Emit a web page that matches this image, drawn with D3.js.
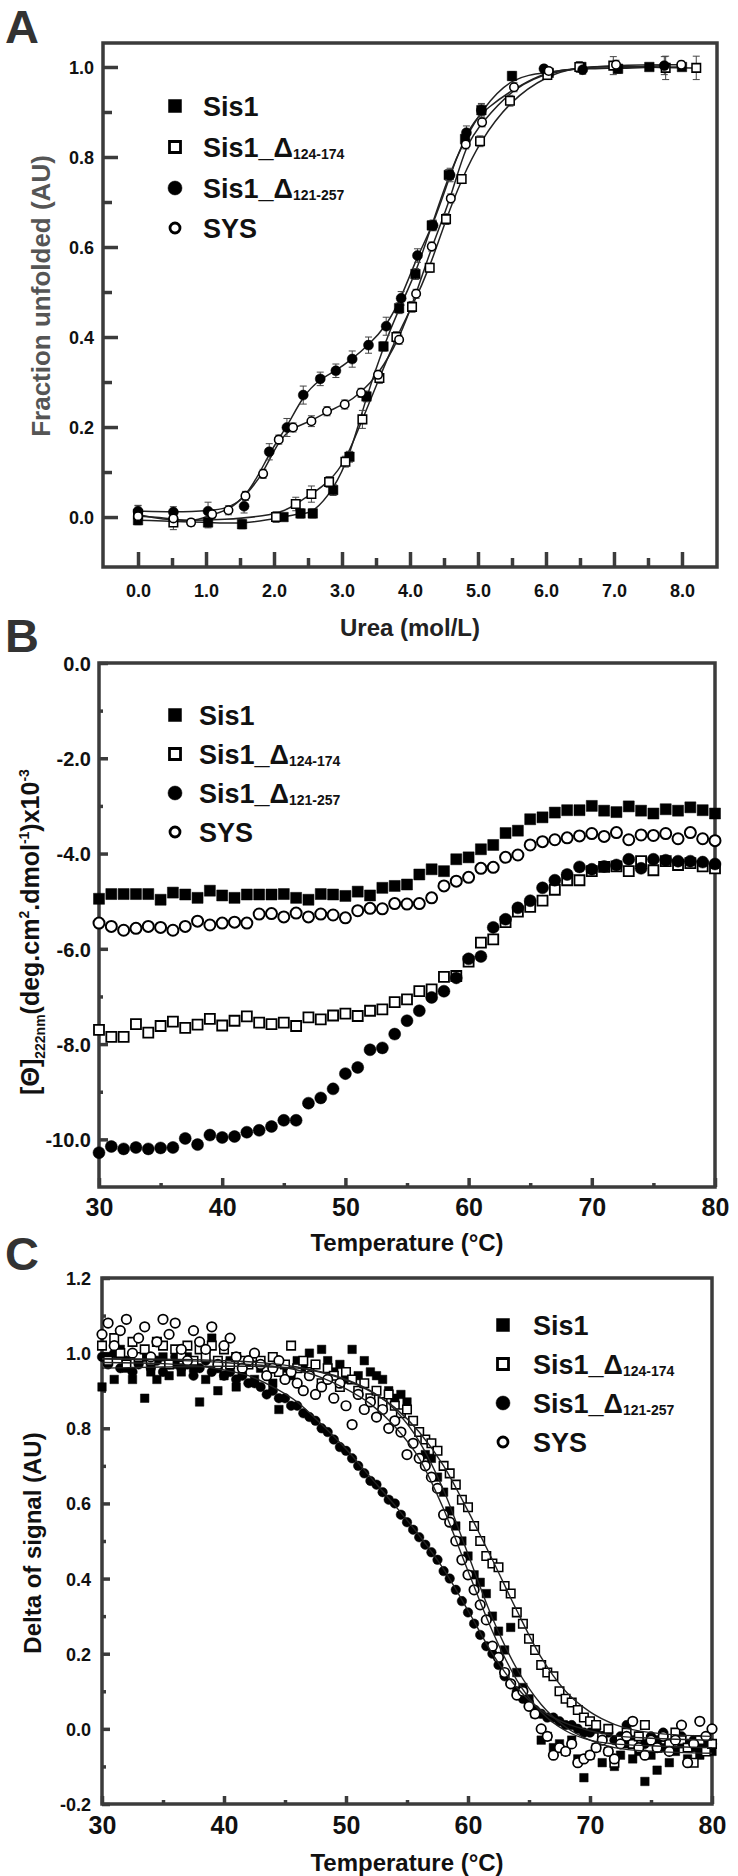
<!DOCTYPE html>
<html><head><meta charset="utf-8">
<script src="https://cdn.jsdelivr.net/npm/d3@7"></script>
<style>
body{margin:0;background:#fff;}
svg text{font-family:"Liberation Sans",Arial,Helvetica,sans-serif;font-weight:bold;}
</style></head>
<body><svg id="c" width="738" height="1876"></svg>
<script>
// ---------------- DATA ----------------
const seriesNames = ["Sis1","Sis1_Δ|124-174","Sis1_Δ|121-257","SYS"];
// Panel A : urea denaturation
const aSis1X = [0,1.03,1.53,2.14,2.39,2.57,2.87,3.11,3.36,3.61,3.84,4.08,4.32,4.57,4.81,5.05,5.50,6.04,6.52,7.06,7.52,8.0];
const aSis1Y = [-0.007,-0.012,-0.016,0.0,0.008,0.008,0.06,0.134,0.268,0.379,0.464,0.54,0.648,0.76,0.84,0.904,0.98,0.987,1.0,0.996,1.0,1.0];
const aSis1E = [0.01,0.012,0.01,0.008,0.01,0.01,0.012,0.012,0.012,0.01,0.012,0.012,0.01,0.012,0.01,0.012,0.01,0.01,0.008,0.01,0.008,0.008];
const aD124X = [0,0.52,2.03,2.32,2.55,2.81,3.05,3.30,3.55,3.80,4.03,4.29,4.53,4.76,5.03,5.47,6.02,6.49,6.99,7.76,8.21];
const aD124Y = [0.006,-0.012,0.0,0.029,0.051,0.078,0.123,0.217,0.309,0.40,0.467,0.554,0.662,0.751,0.835,0.925,0.982,1.0,1.003,0.998,0.998];
const aD124E = [0.02,0.016,0.012,0.015,0.018,0.012,0.012,0.02,0.012,0.012,0.012,0.01,0.012,0.01,0.012,0.012,0.01,0.012,0.02,0.026,0.026];
const aD121X = [0,0.52,1.03,1.56,1.93,2.19,2.43,2.68,2.91,3.15,3.39,3.65,3.87,4.11,4.34,4.59,4.83,5.05,5.97,6.54,7.74];
const aD121Y = [0.013,0.011,0.013,0.024,0.145,0.199,0.271,0.307,0.325,0.351,0.382,0.424,0.486,0.581,0.648,0.76,0.854,0.904,0.996,0.994,1.003];
const aD121E = [0.012,0.012,0.02,0.015,0.018,0.02,0.02,0.015,0.015,0.018,0.018,0.02,0.015,0.015,0.012,0.015,0.015,0.015,0.008,0.01,0.02];
const aSYSX = [0,0.52,0.78,1.09,1.33,1.58,1.84,2.07,2.28,2.55,2.78,3.04,3.28,3.53,3.84,4.09,4.32,4.60,4.82,5.06,5.53,6.04,7.03,7.99];
const aSYSY = [0.002,-0.003,-0.012,0.006,0.015,0.047,0.096,0.172,0.199,0.213,0.235,0.25,0.276,0.316,0.394,0.496,0.601,0.708,0.828,0.877,0.955,0.991,1.005,1.005];
const aSYSE = [0.01,0.01,0.008,0.01,0.01,0.01,0.01,0.01,0.01,0.012,0.01,0.01,0.01,0.01,0.01,0.01,0.01,0.01,0.01,0.01,0.01,0.008,0.01,0.008];
const aXTicks = [0,1,2,3,4,5,6,7,8];
const aYTicks = [0,0.2,0.4,0.6,0.8,1.0];

// Panel B : CD thermal (one point per degree, 30..80 °C)
const bTemp = d3.range(30, 81, 1);
const bSis1 = [-4.95,-4.85,-4.85,-4.85,-4.85,-4.97,-4.82,-4.86,-4.93,-4.78,
  -4.88,-4.93,-4.86,-4.86,-4.86,-4.85,-4.93,-4.97,-4.85,-4.86,
  -4.89,-4.80,-4.88,-4.72,-4.68,-4.65,-4.44,-4.33,-4.37,-4.12,
  -4.08,-3.91,-3.82,-3.57,-3.52,-3.28,-3.24,-3.14,-3.09,-3.09,
  -3.00,-3.10,-3.13,-3.01,-3.10,-3.16,-3.07,-3.10,-3.03,-3.09,-3.16];
const bSYS = [-5.46,-5.53,-5.61,-5.57,-5.53,-5.55,-5.61,-5.53,-5.42,-5.50,
  -5.46,-5.44,-5.46,-5.27,-5.26,-5.33,-5.25,-5.33,-5.27,-5.29,
  -5.35,-5.20,-5.15,-5.16,-5.05,-5.06,-5.05,-4.93,-4.68,-4.58,
  -4.50,-4.31,-4.29,-4.08,-4.03,-3.82,-3.75,-3.71,-3.67,-3.63,
  -3.58,-3.64,-3.56,-3.71,-3.61,-3.62,-3.58,-3.69,-3.56,-3.69,-3.73];
const bD124 = [-7.70,-7.85,-7.85,-7.58,-7.76,-7.62,-7.53,-7.66,-7.59,-7.47,
  -7.61,-7.51,-7.42,-7.55,-7.58,-7.55,-7.62,-7.44,-7.48,-7.40,
  -7.36,-7.41,-7.30,-7.27,-7.12,-7.06,-6.89,-6.85,-6.59,-6.57,
  -6.27,-5.87,-5.80,-5.44,-5.22,-5.12,-4.99,-4.76,-4.56,-4.56,
  -4.37,-4.28,-4.27,-4.37,-4.16,-4.35,-4.16,-4.24,-4.20,-4.27,-4.31];
const bD121 = [-10.28,-10.15,-10.20,-10.17,-10.20,-10.18,-10.17,-9.98,-10.11,-9.91,
  -9.96,-9.94,-9.85,-9.81,-9.73,-9.60,-9.60,-9.24,-9.13,-8.94,
  -8.62,-8.49,-8.12,-8.08,-7.79,-7.51,-7.30,-7.02,-6.89,-6.61,
  -6.21,-6.16,-5.55,-5.38,-5.14,-4.99,-4.72,-4.56,-4.44,-4.28,
  -4.33,-4.27,-4.24,-4.12,-4.31,-4.12,-4.14,-4.16,-4.16,-4.18,-4.22];
const bXTicks = [30,40,50,60,70,80];
const bYTicks = [-10,-8,-6,-4,-2,0];

// Panel C : fluorescence thermal (every 0.5 °C, 30..80 °C)
const cTemp = d3.range(30, 80.01, 0.5);
const cSis1 = [0.91,0.99,0.93,1.01,0.96,0.93,0.98,0.88,0.95,0.93,
  0.99,0.94,0.97,0.95,0.99,0.96,0.87,0.93,1.04,0.90,
  0.94,0.98,0.91,0.95,0.97,0.93,0.96,0.95,0.92,0.85,
  0.96,0.94,0.98,0.96,1.00,0.97,1.01,0.98,0.95,0.97,
  0.93,1.01,0.94,0.98,0.95,0.94,0.93,0.90,0.88,0.89,
  0.87,0.82,0.79,0.73,0.72,0.67,0.63,0.58,0.54,0.50,
  0.46,0.41,0.39,0.36,0.30,0.26,0.21,0.27,0.15,0.11,
  0.08,0.04,-0.03,-0.02,-0.05,-0.04,-0.06,-0.03,-0.08,-0.13,
  -0.07,-0.05,-0.09,-0.06,-0.10,-0.07,-0.04,-0.08,-0.06,-0.14,
  -0.07,-0.11,-0.05,-0.09,-0.06,-0.04,-0.08,-0.05,-0.07,-0.04,-0.06];
const cD124 = [1.02,0.98,1.04,1.00,0.97,1.03,0.99,1.01,0.98,1.03,
  1.02,0.97,1.01,0.99,1.02,0.98,1.01,0.99,1.02,0.98,
  1.01,0.97,0.99,0.98,0.97,0.99,0.98,0.96,0.99,0.95,
  0.97,1.02,0.96,0.98,0.95,0.97,0.92,0.96,0.94,0.91,
  0.95,0.93,0.90,0.92,0.88,0.90,0.87,0.89,0.86,0.84,
  0.85,0.82,0.79,0.77,0.76,0.74,0.70,0.68,0.65,0.61,
  0.59,0.54,0.50,0.46,0.44,0.43,0.38,0.36,0.31,0.28,
  0.24,0.21,0.17,0.15,0.14,0.10,0.08,0.07,0.05,0.03,
  0.02,0.01,-0.02,0.00,-0.09,-0.03,-0.01,-0.04,-0.02,0.01,
  -0.03,-0.05,-0.02,-0.04,-0.01,-0.03,-0.05,-0.09,-0.03,-0.06,-0.04];
const cD121 = [0.99,0.97,1.00,0.96,0.98,0.95,0.97,0.99,0.96,0.98,
  0.95,0.97,0.99,0.96,0.97,0.94,0.96,0.98,0.95,0.96,
  0.94,0.95,0.93,0.94,0.92,0.92,0.91,0.89,0.90,0.88,
  0.88,0.86,0.86,0.84,0.83,0.82,0.80,0.79,0.77,0.75,
  0.74,0.72,0.70,0.68,0.66,0.65,0.63,0.61,0.60,0.57,
  0.55,0.53,0.51,0.49,0.47,0.45,0.42,0.40,0.37,0.34,
  0.31,0.28,0.25,0.22,0.20,0.17,0.14,0.12,0.10,0.08,
  0.07,0.05,0.04,0.03,0.03,0.02,0.01,0.01,0.00,-0.01,
  -0.01,0.00,-0.02,-0.01,-0.03,-0.02,0.01,-0.03,-0.02,-0.04,
  -0.02,-0.03,-0.01,-0.04,-0.03,-0.02,-0.04,-0.03,-0.05,-0.03,-0.04];
const cSYS = [1.05,1.08,1.02,1.06,1.09,1.00,1.04,1.07,0.99,1.03,
  1.09,1.05,1.08,1.01,0.98,1.06,1.03,1.01,1.07,0.97,
  1.02,1.04,0.99,0.96,0.98,1.00,0.97,0.94,0.96,0.98,
  0.93,0.95,0.92,0.90,0.94,0.89,0.91,0.93,0.88,0.92,
  0.86,0.81,0.89,0.85,0.87,0.83,0.85,0.80,0.82,0.79,
  0.73,0.76,0.72,0.70,0.67,0.64,0.57,0.55,0.50,0.45,
  0.41,0.37,0.33,0.29,0.22,0.19,0.15,0.12,0.09,0.10,
  0.06,0.04,0.00,-0.02,-0.07,-0.05,-0.06,-0.04,-0.09,-0.08,
  -0.07,-0.05,-0.03,-0.06,-0.08,-0.04,-0.02,0.02,-0.05,-0.07,
  -0.03,-0.05,-0.02,-0.06,-0.03,0.01,-0.09,-0.04,0.02,-0.02,0.00];
// fitted curves
const cFitT = [30,35,40,42,44,46,48,50,52,54,56,58,60,62,64,66,68,70,72,75,80];
const cFitSis1 = [0.96,0.963,0.965,0.965,0.963,0.96,0.95,0.93,0.9,0.85,0.765,0.635,0.465,0.295,0.16,0.065,0.005,-0.03,-0.05,-0.06,-0.065];
const cFitD124 = [0.985,0.984,0.98,0.977,0.972,0.963,0.948,0.928,0.898,0.855,0.79,0.7,0.58,0.45,0.315,0.19,0.1,0.045,0.012,-0.01,-0.02];
const cFitD121 = [0.975,0.972,0.955,0.94,0.91,0.87,0.81,0.745,0.67,0.595,0.515,0.425,0.315,0.2,0.11,0.05,0.015,-0.005,-0.018,-0.025,-0.03];
const cFitSYS = [0.985,0.982,0.975,0.97,0.965,0.955,0.935,0.905,0.865,0.805,0.72,0.585,0.42,0.26,0.13,0.045,-0.005,-0.03,-0.04,-0.045,-0.05];
const cXTicks = [30,40,50,60,70,80];
const cYTicks = [-0.2,0,0.2,0.4,0.6,0.8,1.0,1.2];

// ---------------- DRAWING ----------------
const svg = d3.select("#c");
const FRAME = "#3b3b3b";
const fmt1 = d => d.toFixed(1);

function panel(o){
  const g = svg.append("g");
  const x = d3.scaleLinear().domain(o.xDom).range([o.L, o.R]);
  const y = d3.scaleLinear().domain(o.yDom).range([o.B, o.T]);
  const add = (axis, tr) => { const a = g.append("g").attr("transform", tr).call(axis); a.select(".domain").remove(); return a; };
  add(d3.axisBottom(x).tickValues(o.xMinor).tickSize(-o.minLen).tickFormat(""), `translate(0,${o.B})`);
  const xa = add(d3.axisBottom(x).tickValues(o.xMajor).tickSize(-o.majLen).tickPadding(o.xPad).tickFormat(o.xFmt), `translate(0,${o.B})`);
  add(d3.axisLeft(y).tickValues(o.yMinor).tickSize(-o.minLen).tickFormat(""), `translate(${o.L},0)`);
  const ya = add(d3.axisLeft(y).tickValues(o.yMajor).tickSize(-o.majLen).tickPadding(o.yPad).tickFormat(o.yFmt), `translate(${o.L},0)`);
  g.selectAll(".tick line").attr("stroke", FRAME).attr("stroke-width", o.tickW);
  xa.selectAll("text").style("font-size", o.xFs + "px").attr("fill", "#111");
  ya.selectAll("text").style("font-size", o.yFs + "px").attr("fill", "#111").attr("dy", "0.36em");
  g.append("rect").attr("x", o.L).attr("y", o.T).attr("width", o.R - o.L).attr("height", o.B - o.T)
    .attr("fill", "none").attr("stroke", FRAME).attr("stroke-width", o.frameW);
  const plot = g.append("g");
  return {g, plot, x, y};
}

function marker(sel, type, size, sw){
  const isSq = type[1] === "s";
  const filled = type[0] === "f";
  const sym = isSq ? d3.symbol(d3.symbolSquare, size * size) : d3.symbol(d3.symbolCircle, Math.PI * size * size / 4);
  sel.attr("d", sym)
    .attr("fill", filled ? "#000" : "#fff")
    .attr("stroke", "#000")
    .attr("stroke-width", filled ? 0.5 : (sw || Math.max(1.4, size / 5.5)));
}

function scatter(p, xs, ys, type, size){
  p.plot.append("g").selectAll("path").data(xs.map((v, i) => [v, ys[i]])).join("path")
    .attr("transform", d => `translate(${p.x(d[0])},${p.y(d[1])})`)
    .call(marker, type, size);
}

function fitLine(p, xs, ys, curve, w){
  p.plot.append("path").datum(xs.map((v, i) => [v, ys[i]]))
    .attr("fill", "none").attr("stroke", "#222").attr("stroke-width", w)
    .attr("d", d3.line().x(d => p.x(d[0])).y(d => p.y(d[1])).curve(curve));
}

function errBars(p, xs, ys, es){
  const g = p.plot.append("g").attr("stroke", "#444").attr("stroke-width", 1);
  xs.forEach((v, i) => {
    const cx = p.x(v), y1 = p.y(ys[i] - es[i]), y2 = p.y(ys[i] + es[i]);
    g.append("line").attr("x1", cx).attr("x2", cx).attr("y1", y1).attr("y2", y2);
    g.append("line").attr("x1", cx - 3.5).attr("x2", cx + 3.5).attr("y1", y1).attr("y2", y1);
    g.append("line").attr("x1", cx - 3.5).attr("x2", cx + 3.5).attr("y1", y2).attr("y2", y2);
  });
}

function legend(mx, tx, rows, fs, subFs){
  const types = ["fs", "os", "fc", "oc"];
  const sizes = [13, 11, 14, 10];
  seriesNames.forEach((nm, i) => {
    svg.append("path").attr("transform", `translate(${mx},${rows[i]})`).call(marker, types[i], sizes[i], 2.8);
    const parts = nm.split("|");
    const t = svg.append("text").attr("x", tx).attr("y", rows[i]).attr("dy", "0.36em")
      .style("font-size", fs + "px").attr("fill", "#111");
    t.append("tspan").text(parts[0]);
    if (parts[1]) t.append("tspan").attr("dy", 2).style("font-size", subFs + "px").text(parts[1]);
  });
}

function label(txt, x, y){
  svg.append("text").attr("x", x).attr("y", y).style("font-size", "47px").attr("fill", "#333").text(txt);
}

// ----- Panel A -----
const A = panel({L:103, R:717, T:43, B:567, xDom:[-0.515, 8.515], yDom:[-0.111, 1.0533],
  xMajor:aXTicks, xMinor:[0.5,1.5,2.5,3.5,4.5,5.5,6.5,7.5], yMajor:aYTicks, yMinor:[0.1,0.3,0.5,0.7,0.9],
  majLen:15, minLen:9, tickW:3.5, frameW:3.5, xPad:17, yPad:9, xFmt:fmt1, yFmt:fmt1, xFs:18, yFs:18});
fitLine(A, aSis1X, aSis1Y, d3.curveBasis, 1.5);
fitLine(A, aD124X, aD124Y, d3.curveBasis, 1.5);
fitLine(A, aD121X, aD121Y, d3.curveBasis, 1.5);
fitLine(A, aSYSX, aSYSY, d3.curveBasis, 1.5);
errBars(A, aSis1X, aSis1Y, aSis1E);
errBars(A, aD124X, aD124Y, aD124E);
errBars(A, aD121X, aD121Y, aD121E);
errBars(A, aSYSX, aSYSY, aSYSE);
scatter(A, aSis1X, aSis1Y, "fs", 9.5);
scatter(A, aD124X, aD124Y, "os", 8.5);
scatter(A, aD121X, aD121Y, "fc", 10);
scatter(A, aSYSX, aSYSY, "oc", 8.5);
legend(175, 203, [106,147,188,228], 27, 14);
svg.append("text").attr("x", 410).attr("y", 627).attr("dy", "0.36em").attr("text-anchor", "middle")
  .style("font-size", "24px").attr("fill", "#222").text("Urea (mol/L)");
svg.append("text").attr("transform", "translate(41,296) rotate(-90)").attr("dy", "0.36em").attr("text-anchor", "middle")
  .style("font-size", "26px").attr("fill", "#555").text("Fraction unfolded (AU)");
label("A", 5, 43);

// ----- Panel B -----
const Bp = panel({L:99, R:715, T:663, B:1187, xDom:[30, 80], yDom:[-11, 0],
  xMajor:bXTicks, xMinor:[35,45,55,65,75], yMajor:bYTicks, yMinor:[-9,-7,-5,-3,-1],
  majLen:9, minLen:4, tickW:3.5, frameW:3.5, xPad:11, yPad:8, xFmt:d3.format("d"), yFmt:fmt1, xFs:25, yFs:20});
scatter(Bp, bTemp, bSis1, "fs", 11);
scatter(Bp, bTemp, bSYS, "oc", 11);
scatter(Bp, bTemp, bD124, "os", 10);
scatter(Bp, bTemp, bD121, "fc", 12);
legend(175, 199, [715,754,793,832], 27, 14);
svg.append("text").attr("x", 407).attr("y", 1242).attr("dy", "0.36em").attr("text-anchor", "middle")
  .style("font-size", "24px").attr("fill", "#111").text("Temperature (°C)");
{
  const t = svg.append("text").attr("transform", "translate(30,932) rotate(-90)").attr("dy", "0.36em")
    .attr("text-anchor", "middle").style("font-size", "25px").attr("fill", "#111");
  t.append("tspan").text("[Θ]");
  t.append("tspan").attr("dy", 6).style("font-size", "14px").text("222nm");
  t.append("tspan").attr("dy", -6).text("(deg.cm");
  t.append("tspan").attr("dy", -10).style("font-size", "14px").text("2");
  t.append("tspan").attr("dy", 10).text(".dmol");
  t.append("tspan").attr("dy", -10).style("font-size", "14px").text("-1");
  t.append("tspan").attr("dy", 10).text(")x10");
  t.append("tspan").attr("dy", -10).style("font-size", "14px").text("-3");
}
label("B", 5, 652);

// ----- Panel C -----
const Cp = panel({L:102, R:712, T:1278, B:1804, xDom:[30, 80], yDom:[-0.2, 1.2],
  xMajor:cXTicks, xMinor:[35,45,55,65,75], yMajor:cYTicks, yMinor:[-0.1,0.1,0.3,0.5,0.7,0.9,1.1],
  majLen:8, minLen:4, tickW:3.5, frameW:3.5, xPad:12, yPad:11, xFmt:d3.format("d"), yFmt:fmt1, xFs:25, yFs:18});
scatter(Cp, cTemp, cSis1, "fs", 8.5);
scatter(Cp, cTemp, cD121, "fc", 9.5);
scatter(Cp, cTemp, cD124, "os", 8.5);
scatter(Cp, cTemp, cSYS, "oc", 9.5);
fitLine(Cp, cFitT, cFitSis1, d3.curveMonotoneX, 1.4);
fitLine(Cp, cFitT, cFitD124, d3.curveMonotoneX, 1.4);
fitLine(Cp, cFitT, cFitD121, d3.curveMonotoneX, 1.4);
fitLine(Cp, cFitT, cFitSYS, d3.curveMonotoneX, 1.4);
legend(503, 533, [1325,1364,1403,1442], 27, 14);
svg.append("text").attr("x", 407).attr("y", 1862).attr("dy", "0.36em").attr("text-anchor", "middle")
  .style("font-size", "24px").attr("fill", "#111").text("Temperature (°C)");
svg.append("text").attr("transform", "translate(32,1543) rotate(-90)").attr("dy", "0.36em").attr("text-anchor", "middle")
  .style("font-size", "24px").attr("fill", "#111").text("Delta of signal (AU)");
label("C", 5, 1270);
</script></body></html>
